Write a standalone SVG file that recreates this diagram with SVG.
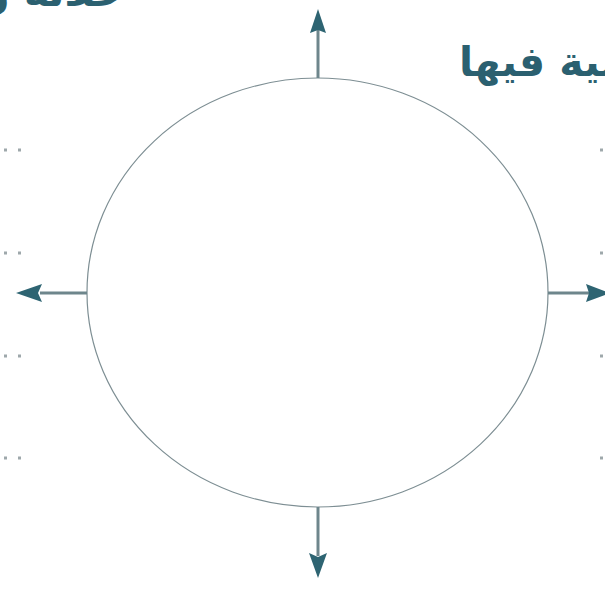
<svg xmlns="http://www.w3.org/2000/svg" width="605" height="589" viewBox="0 0 605 589">
<defs>
<style>
.lbl{font-family:"DejaVu Sans","Noto Sans",sans-serif;font-weight:bold;font-size:41px;fill:#2b6070}
.dots{stroke:#9ea8ab;stroke-width:3;stroke-dasharray:3 11;fill:none}
.conn{stroke:#6e868c;stroke-width:3;fill:none}
</style>
</defs>
<rect width="605" height="589" fill="#ffffff"/>
<g id="labels">
<text class="lbl" x="125" y="6" text-anchor="end">خلاله وعلى</text>
<text class="lbl" x="459" y="76">الأساسية فيها</text>
</g>
<g id="writing-lines">
<line class="dots" x1="4" y1="150" x2="28" y2="150"/>
<line class="dots" x1="4" y1="253" x2="28" y2="253"/>
<line class="dots" x1="4" y1="356" x2="28" y2="356"/>
<line class="dots" x1="4" y1="458" x2="28" y2="458"/>
<line class="dots" x1="600" y1="150" x2="614" y2="150"/>
<line class="dots" x1="600" y1="253" x2="614" y2="253"/>
<line class="dots" x1="600" y1="356" x2="614" y2="356"/>
<line class="dots" x1="600" y1="458" x2="614" y2="458"/>
</g>
<g id="center-node">
<ellipse cx="317.5" cy="292.5" rx="230.5" ry="214.5" fill="#ffffff" stroke="#7d8e93" stroke-width="1.2"/>
</g>
<g id="connectors">
<line class="conn" x1="318" y1="78" x2="318" y2="30"/>
<polygon points="318,9 310,33 318,30 326,33" fill="#2e6472"/>
<line class="conn" x1="87" y1="293" x2="40" y2="293"/>
<polygon points="16,293 42,284 38,293 42,302" fill="#2e6472"/>
<line class="conn" x1="548" y1="293" x2="590" y2="293"/>
<polygon points="610,293 586,284 589,293 586,302" fill="#2e6472"/>
<line class="conn" x1="318" y1="507" x2="318" y2="556"/>
<polygon points="318,578 309,553 318,557 327,553" fill="#2e6472"/>
</g>
</svg>
